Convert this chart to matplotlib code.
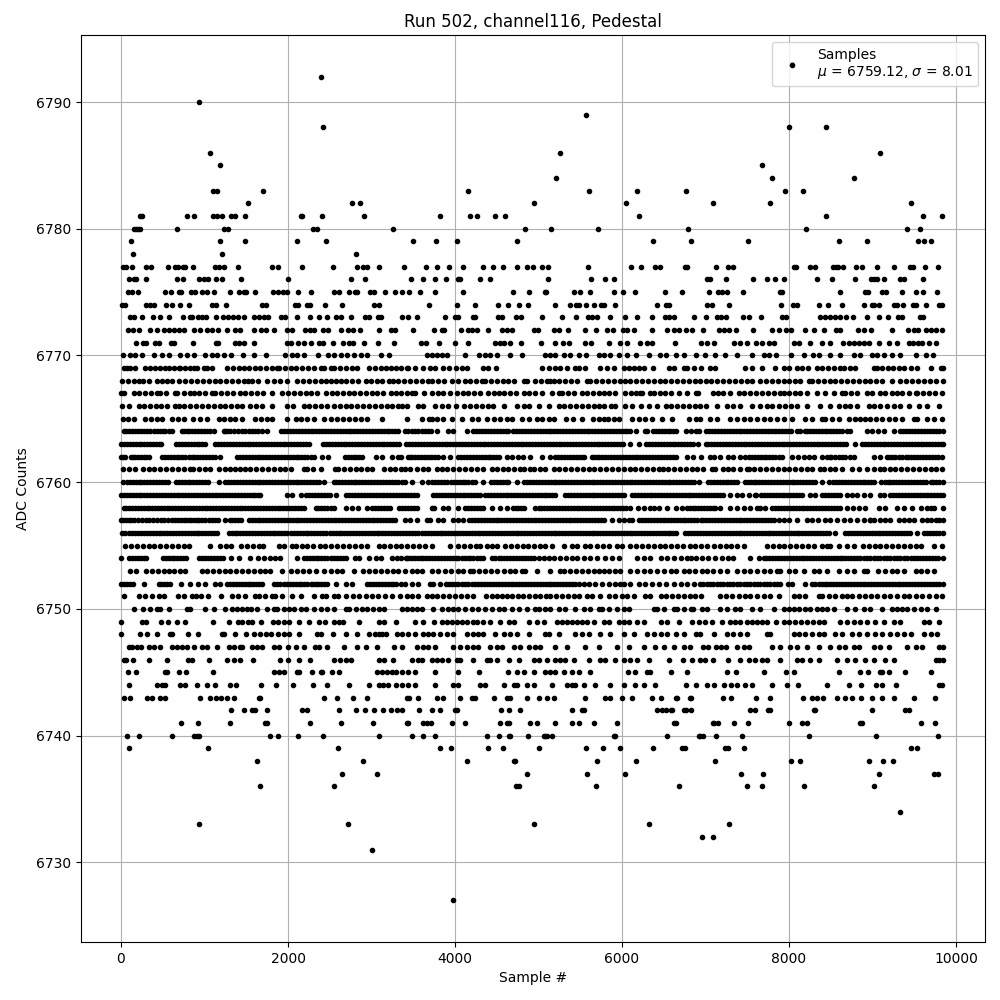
import matplotlib
matplotlib.use('Agg')
import matplotlib.pyplot as plt

# sample numbers at each ADC level
s6793 = [8036]
s6792 = [2390]
s6790 = [930]
s6789 = [5570]
s6788 = [2420, 8000, 8440]
s6786 = [1060, 5260, 9090]
s6785 = [1190, 7680]
s6784 = [5210, 7800, 8780]
s6783 = [1100, 1150, 1700, 4161, 5601, 6177, 6765, 7947, 8163]
s6782 = [1518, 2770, 2866, 4941, 6045, 7095, 7767, 9459]
s6781 = [222, 250, 786, 870, 1098, 1150, 1206, 1314, 1362, 1482, 2158, 2170, 2406, 2910, 3825, 4185, 4269, 4473, 4593, 6201, 8439, 9603, 9830]
s6780 = [150, 175, 200, 222, 666, 1230, 1278, 2298, 2346, 3258, 4833, 5145, 5709, 6789, 8199, 9411, 9567]
s6779 = [114, 1182, 1482, 2106, 2454, 3501, 3777, 4029, 4737, 6369, 6825, 7503, 8595, 8931, 9543, 9615, 9699]
s6778 = [138, 1206, 2814]
s6777 = [22, 58, 126, 294, 354, 558, 642, 678, 738, 762, 858, 1122, 1170, 1230, 1398, 1806, 1878, 2166, 2538, 2826, 2898, 2950, 3090, 3393, 3657, 3789, 3933, 4101, 4341, 4449, 4569, 4737, 4857, 4929, 5037, 5109, 5589, 6105, 6225, 6393, 6453, 6753, 6777, 7131, 7275, 7335, 8055, 8079, 8247, 8307, 8523, 8559, 8583, 8643, 8799, 8871, 9051, 9255, 9447, 9483, 9627, 9783]
s6776 = [90, 150, 174, 294, 666, 738, 930, 990, 1038, 1134, 1206, 1434, 1998, 2754, 2922, 3477, 3621, 3765, 3897, 4041, 4065, 4305, 4425, 5109, 5625, 5793, 5901, 7023, 7059, 7251, 7563, 7731, 7827, 7935, 8331, 8511, 8787, 8979, 9015, 9051, 9135, 9327, 9375, 9603]
s6775 = [78, 126, 198, 522, 594, 690, 714, 834, 882, 966, 1026, 1110, 1302, 1410, 1470, 1494, 1602, 1818, 1878, 1938, 1990, 2118, 2278, 2550, 2610, 2730, 2802, 2830, 2982, 3030, 3162, 3282, 3361, 3453, 3585, 3765, 4101, 4689, 4881, 5073, 5085, 5421, 5493, 5613, 5901, 6009, 6153, 6513, 6717, 7047, 7155, 7203, 7263, 7443, 7887, 7911, 8607, 8907, 8943, 9111, 9159, 9351, 9519, 9603, 9771]
s6774 = [10, 50, 294, 342, 390, 534, 606, 702, 810, 1086, 1134, 1254, 1686, 1734, 2082, 2118, 2226, 2262, 2442, 2646, 3030, 3090, 3693, 4029, 4245, 4509, 4629, 4761, 4869, 5193, 5373, 5445, 5481, 5565, 5661, 5745, 5781, 5913, 6417, 6525, 6561, 7023, 7083, 7287, 7899, 8043, 8091, 8355, 8463, 8631, 8895, 8991, 9015, 9075, 9255, 9291, 9363, 9483, 9519, 9639, 9795, 9831]
s6773 = [102, 150, 246, 378, 462, 570, 738, 822, 846, 918, 966, 1014, 1134, 1218, 1278, 1338, 1398, 1470, 1590, 1650, 1710, 1758, 1914, 1962, 2106, 2262, 2370, 2470, 2574, 2634, 2754, 2922, 2970, 3078, 3114, 3369, 3441, 3549, 3885, 4005, 4041, 4221, 4245, 4509, 4557, 4725, 4785, 5037, 5277, 5445, 5589, 5637, 5697, 5853, 6033, 6177, 6357, 6513, 6561, 6621, 6861, 7011, 7143, 7191, 7251, 7443, 7515, 7659, 7911, 7959, 8367, 8427, 8487, 8547, 8607, 8679, 8763, 8935, 9075, 9183, 9303, 9351, 9567, 9603]
s6772 = [78, 138, 210, 350, 430, 510, 570, 630, 690, 750, 870, 950, 1030, 1090, 1158, 1266, 1362, 1422, 1590, 1674, 1734, 1830, 1990, 2046, 2202, 2262, 2310, 2418, 2478, 2634, 2718, 2778, 2862, 3090, 3234, 3282, 3501, 3753, 3849, 3873, 4077, 4161, 4209, 4269, 4401, 4557, 4617, 4677, 4941, 4989, 5181, 5241, 5349, 5553, 5685, 5817, 5889, 6009, 6057, 6141, 6357, 6541, 6621, 6681, 6765, 6841, 6975, 7167, 7227, 7283, 7371, 7563, 7795, 7875, 7959, 8019, 8187, 8295, 8415, 8559, 8607, 8823, 8895, 8979, 9231, 9423, 9495, 9543, 9639, 9695, 9759, 9831]
s6771 = [174, 258, 294, 410, 450, 594, 630, 858, 1134, 1158, 1362, 1410, 1470, 1590, 1990, 2038, 2118, 2190, 2278, 2370, 2418, 2538, 2658, 2730, 2778, 2910, 3078, 3270, 3597, 3657, 3813, 4001, 4161, 4473, 4533, 4581, 4653, 4785, 5025, 5193, 5289, 5361, 5553, 5625, 5841, 5973, 6057, 6213, 6297, 6357, 6633, 6951, 7023, 7107, 7347, 7407, 7491, 7599, 7675, 7755, 7815, 8055, 8115, 8247, 8391, 8487, 8643, 8715, 8775, 8835, 8895, 8955, 9075, 9195, 9291, 9435, 9483, 9543, 9591, 9675, 9759]
s6770 = [18, 102, 170, 250, 390, 486, 570, 702, 786, 870, 1002, 1090, 1150, 1230, 1314, 1458, 1590, 1734, 1962, 2050, 2110, 2190, 2358, 2478, 2550, 2630, 2710, 2790, 2870, 2950, 3114, 3210, 3661, 3721, 3789, 3849, 3901, 4125, 4293, 4361, 4421, 4497, 4653, 4801, 5073, 5133, 5201, 5301, 5381, 5481, 5573, 5721, 5781, 5853, 5961, 6057, 6165, 6321, 6453, 6525, 6645, 6741, 6881, 6999, 7119, 7239, 7383, 7551, 7695, 7755, 7839, 8019, 8175, 8283, 8355, 8487, 8615, 8775, 8855, 8995, 9055, 9135, 9231, 9335, 9519, 9639, 9723]
s6769 = [30, 70, 110, 162, 290, 350, 410, 470, 530, 570, 630, 690, 710, 770, 830, 870, 910, 990, 1030, 1090, 1270, 1340, 1410, 1470, 1530, 1600, 1670, 1740, 1810, 1870, 1890, 1960, 2030, 2100, 2170, 2240, 2310, 2390, 2430, 2510, 2550, 2620, 2690, 2770, 2830, 2970, 3040, 3110, 3170, 3230, 3290, 3350, 3421, 3441, 3521, 3621, 3701, 3761, 3861, 3930, 4010, 4081, 4149, 4341, 4401, 4485, 5041, 5120, 5201, 5261, 5340, 5441, 5481, 5553, 5741, 5820, 5901, 6021, 6081, 6141, 6201, 6261, 6369, 6561, 6621, 6741, 6781, 6861, 6941, 7055, 7115, 7475, 7555, 7675, 7827, 7935, 7995, 8095, 8160, 8230, 8335, 8395, 8470, 8540, 8615, 8655, 8730, 8795, 9015, 9055, 9115, 9180, 9250, 9315, 9375, 9455, 9535, 9695, 9815, 9840]
s6768 = [10, 80, 150, 210, 258, 330, 430, 490, 550, 610, 690, 770, 840, 910, 980, 1050, 1120, 1190, 1260, 1330, 1400, 1470, 1518, 1570, 1638, 1750, 1830, 1910, 1982, 2110, 2180, 2250, 2320, 2390, 2450, 2510, 2570, 2630, 2700, 2770, 2840, 2930, 2990, 3060, 3130, 3210, 3262, 3318, 3390, 3460, 3530, 3600, 3681, 3721, 3800, 3870, 3960, 4041, 4121, 4181, 4250, 4321, 4361, 4430, 4500, 4570, 4640, 4710, 4821, 4861, 4961, 5030, 5100, 5141, 5181, 5250, 5320, 5390, 5460, 5581, 5621, 5690, 5760, 5830, 5900, 5970, 6041, 6101, 6170, 6240, 6310, 6380, 6450, 6520, 6590, 6660, 6730, 6800, 6875, 6935, 7000, 7070, 7140, 7210, 7280, 7350, 7420, 7495, 7551, 7655, 7725, 7795, 7865, 7935, 8005, 8075, 8135, 8235, 8275, 8345, 8415, 8485, 8555, 8625, 8695, 8765, 8835, 8905, 8975, 9045, 9115, 9235, 9335, 9405, 9475, 9545, 9615, 9685, 9755, 9840]
s6767 = [0, 40, 150, 220, 290, 360, 430, 470, 540, 650, 670, 750, 830, 870, 940, 1010, 1090, 1130, 1200, 1270, 1340, 1430, 1490, 1560, 1630, 1700, 1810, 1930, 2000, 2070, 2140, 2210, 2280, 2350, 2450, 2530, 2590, 2660, 2730, 2790, 2860, 2930, 3000, 3070, 3140, 3230, 3290, 3350, 3420, 3481, 3521, 3633, 3729, 3801, 3861, 3941, 4021, 4090, 4160, 4230, 4300, 4401, 4461, 4521, 4590, 4660, 4730, 4821, 4881, 4960, 5041, 5161, 5241, 5281, 5350, 5420, 5521, 5581, 5650, 5720, 5781, 5841, 5921, 6041, 6110, 6170, 6221, 6241, 6341, 6381, 6450, 6520, 6581, 6681, 6781, 6881, 6915, 7095, 7155, 7215, 7295, 7395, 7465, 7535, 7605, 7675, 7745, 7815, 7895, 7935, 8005, 8075, 8135, 8215, 8335, 8435, 8535, 8635, 8675, 8745, 8815, 8935, 8995, 9095, 9155, 9235, 9295, 9355, 9435, 9515, 9535, 9605, 9675, 9745, 9835]
s6766 = [10, 90, 210, 280, 350, 420, 480, 550, 650, 690, 760, 830, 900, 970, 1040, 1110, 1180, 1250, 1320, 1390, 1450, 1550, 1620, 1690, 1810, 1990, 2060, 2190, 2250, 2320, 2390, 2470, 2550, 2620, 2690, 2760, 2830, 2900, 2970, 3040, 3110, 3180, 3250, 3320, 3370, 3430, 3561, 3621, 3761, 3841, 3921, 4011, 4111, 4181, 4250, 4320, 4390, 4460, 4581, 4741, 4821, 4890, 5000, 5121, 5250, 5310, 5380, 5450, 5521, 5590, 5660, 5720, 5781, 5870, 5921, 6041, 6121, 6230, 6320, 6421, 6521, 6590, 6660, 6730, 6800, 6880, 6935, 7000, 7135, 7255, 7335, 7415, 7555, 7655, 7735, 7800, 7880, 7950, 8020, 8095, 8215, 8375, 8495, 8595, 8665, 8735, 8815, 8955, 9015, 9095, 9175, 9255, 9335, 9435, 9555, 9655, 9795]
s6765 = [20, 80, 150, 290, 360, 430, 490, 610, 680, 750, 860, 950, 1030, 1170, 1230, 1300, 1370, 1450, 1610, 1680, 1750, 1810, 1990, 2090, 2160, 2230, 2310, 2430, 2510, 2590, 2660, 2730, 2800, 2870, 2950, 3120, 3430, 3610, 3690, 3721, 3790, 3860, 3960, 4089, 4201, 4280, 4381, 4461, 4540, 4621, 4681, 4801, 4881, 4981, 5041, 5121, 5181, 5330, 5410, 5521, 5650, 5721, 5781, 5830, 5900, 5961, 6121, 6201, 6281, 6361, 6481, 6601, 6801, 6881, 6935, 7055, 7135, 7295, 7375, 7455, 7535, 7615, 7695, 7775, 7855, 7935, 8035, 8195, 8275, 8395, 8435, 8515, 8595, 8715, 8795, 8855, 8915, 8975, 9045, 9115, 9195, 9275, 9355, 9495, 9535, 9655, 9735, 9835]
s6764 = [30, 100, 170, 240, 310, 350, 400, 470, 530, 610, 730, 750, 820, 890, 960, 1030, 1110, 1230, 1240, 1310, 1400, 1450, 1530, 1600, 1690, 1750, 1920, 1990, 2060, 2130, 2200, 2270, 2340, 2410, 2480, 2550, 2620, 2690, 2760, 2830, 2900, 2970, 3040, 3110, 3180, 3250, 3320, 3400, 3481, 3561, 3640, 3710, 3781, 3920, 3970, 4141, 4221, 4290, 4360, 4430, 4500, 4570, 4640, 4700, 4770, 4840, 4910, 4980, 5050, 5120, 5190, 5260, 5330, 5400, 5470, 5540, 5610, 5680, 5750, 5820, 5890, 5960, 6030, 6100, 6170, 6270, 6301, 6370, 6440, 6510, 6580, 6650, 6761, 6821, 6881, 6920, 7000, 7045, 7115, 7185, 7255, 7325, 7395, 7465, 7535, 7605, 7675, 7745, 7815, 7885, 7955, 8025, 8095, 8135, 8190, 8215, 8285, 8355, 8425, 8495, 8565, 8635, 8695, 8735, 8935, 8995, 9065, 9135, 9255, 9335, 9405, 9475, 9545, 9615, 9685, 9755, 9840]
s6763 = [0, 70, 140, 210, 280, 350, 420, 480, 660, 730, 800, 870, 940, 1010, 1130, 1200, 1270, 1340, 1410, 1480, 1550, 1620, 1690, 1760, 1830, 1900, 1970, 2040, 2110, 2180, 2250, 2420, 2490, 2560, 2630, 2700, 2770, 2840, 2910, 2980, 3050, 3120, 3190, 3260, 3330, 3410, 3480, 3560, 3630, 3700, 3770, 3840, 3910, 3980, 4050, 4120, 4190, 4260, 4330, 4400, 4470, 4540, 4610, 4680, 4750, 4820, 4890, 4960, 5030, 5100, 5170, 5240, 5310, 5380, 5450, 5520, 5590, 5660, 5730, 5800, 5870, 5940, 6010, 6100, 6200, 6290, 6360, 6430, 6500, 6570, 6640, 6710, 6780, 6850, 6915, 7000, 7070, 7140, 7210, 7280, 7350, 7420, 7490, 7560, 7630, 7700, 7770, 7840, 7910, 7980, 8050, 8120, 8190, 8260, 8330, 8400, 8470, 8540, 8610, 8680, 8795, 8875, 8945, 9015, 9085, 9155, 9225, 9295, 9365, 9435, 9505, 9575, 9645, 9715, 9785, 9840]
s6762 = [0, 50, 120, 140, 200, 270, 330, 490, 560, 630, 700, 770, 850, 910, 980, 1050, 1130, 1190, 1390, 1460, 1530, 1600, 1670, 1740, 1810, 1880, 1950, 2020, 2090, 2160, 2230, 2310, 2410, 2480, 2680, 2750, 2820, 2890, 3050, 3120, 3250, 3320, 3350, 3441, 3461, 3520, 3590, 3660, 3730, 3800, 3860, 3941, 4041, 4110, 4180, 4250, 4320, 4390, 4460, 4530, 4621, 4681, 4750, 4820, 4901, 5041, 5141, 5201, 5270, 5340, 5410, 5480, 5550, 5641, 5661, 5730, 5800, 5870, 5940, 6010, 6080, 6150, 6220, 6290, 6360, 6430, 6500, 6570, 6641, 6781, 6850, 6941, 7055, 7105, 7175, 7275, 7335, 7415, 7475, 7555, 7625, 7695, 7765, 7835, 7915, 8035, 8105, 8175, 8235, 8295, 8395, 8455, 8495, 8555, 8635, 8675, 8735, 8775, 9015, 9095, 9175, 9195, 9275, 9355, 9395, 9465, 9535, 9605, 9675, 9745, 9835]
s6761 = [20, 90, 170, 260, 330, 400, 470, 540, 610, 680, 750, 830, 860, 930, 1000, 1070, 1170, 1240, 1300, 1370, 1430, 1480, 1550, 1620, 1690, 1760, 1830, 1900, 1970, 2040, 2190, 2230, 2300, 2400, 2560, 2600, 2670, 2740, 2810, 2880, 2950, 3010, 3150, 3220, 3280, 3350, 3400, 3460, 3541, 3621, 3681, 3781, 3841, 3910, 3980, 4050, 4120, 4190, 4260, 4330, 4441, 4501, 4570, 4640, 4710, 4781, 4821, 4901, 4950, 5021, 5081, 5181, 5250, 5320, 5390, 5460, 5530, 5600, 5670, 5740, 5810, 5880, 5950, 6020, 6090, 6160, 6230, 6300, 6370, 6441, 6485, 6555, 6625, 6695, 6765, 6835, 6900, 6975, 7075, 7115, 7215, 7275, 7335, 7415, 7495, 7515, 7585, 7655, 7725, 7795, 7865, 7935, 8005, 8075, 8145, 8215, 8275, 8375, 8415, 8485, 8555, 8635, 8755, 8835, 8935, 9015, 9095, 9135, 9205, 9275, 9345, 9415, 9485, 9555, 9625, 9695, 9765, 9835]
s6760 = [18, 70, 140, 210, 280, 350, 420, 490, 560, 660, 730, 800, 860, 930, 1000, 1040, 1170, 1250, 1320, 1390, 1460, 1530, 1600, 1670, 1740, 1810, 1880, 1950, 2020, 2090, 2160, 2230, 2300, 2370, 2430, 2550, 2610, 2680, 2750, 2820, 2890, 2960, 3030, 3100, 3170, 3240, 3320, 3361, 3401, 3481, 3601, 3680, 3730, 3800, 3870, 3950, 4021, 4090, 4160, 4240, 4341, 4430, 4500, 4570, 4640, 4741, 4821, 4901, 4970, 5040, 5110, 5180, 5250, 5320, 5390, 5460, 5530, 5600, 5670, 5740, 5810, 5880, 5950, 6020, 6090, 6160, 6230, 6300, 6370, 6440, 6510, 6580, 6650, 6720, 6790, 6860, 6920, 7030, 7100, 7170, 7240, 7310, 7380, 7470, 7540, 7610, 7680, 7750, 7820, 7890, 7960, 8030, 8100, 8170, 8240, 8310, 8390, 8480, 8530, 8600, 8670, 8740, 8810, 8880, 8950, 9020, 9100, 9145, 9215, 9285, 9355, 9425, 9495, 9565, 9640, 9695, 9765, 9840]
s6759 = [0, 70, 140, 210, 280, 350, 420, 490, 560, 630, 700, 770, 840, 910, 980, 1050, 1120, 1190, 1260, 1330, 1400, 1470, 1540, 1610, 1670, 1990, 2050, 2160, 2220, 2290, 2360, 2430, 2500, 2570, 2700, 2770, 2840, 2910, 2980, 3050, 3120, 3190, 3260, 3330, 3400, 3470, 3540, 3741, 3810, 3880, 3950, 4020, 4090, 4160, 4230, 4300, 4361, 4430, 4500, 4570, 4640, 4710, 4780, 4850, 4920, 4990, 5060, 5130, 5200, 5321, 5390, 5460, 5530, 5600, 5670, 5740, 5810, 5880, 5950, 6020, 6120, 6190, 6260, 6330, 6400, 6470, 6540, 6610, 6680, 6750, 6820, 6890, 6960, 7030, 7100, 7170, 7215, 7295, 7375, 7435, 7515, 7595, 7665, 7735, 7805, 7875, 7945, 8015, 8085, 8155, 8255, 8315, 8395, 8465, 8535, 8615, 8695, 8755, 8815, 8895, 8975, 9095, 9135, 9215, 9285, 9355, 9425, 9495, 9565, 9635, 9705, 9775, 9840]
s6758 = [30, 100, 170, 240, 310, 370, 440, 510, 580, 650, 720, 790, 860, 930, 1000, 1070, 1140, 1210, 1280, 1350, 1420, 1490, 1560, 1630, 1700, 1770, 1840, 1910, 1980, 2050, 2120, 2190, 2330, 2400, 2470, 2550, 2700, 2770, 2840, 2950, 3010, 3080, 3150, 3220, 3330, 3400, 3470, 3541, 3721, 3750, 3851, 3921, 4041, 4121, 4190, 4260, 4330, 4441, 4541, 4621, 4690, 4760, 4830, 4961, 5001, 5070, 5140, 5210, 5280, 5350, 5420, 5490, 5560, 5630, 5700, 5770, 5840, 5910, 5980, 6050, 6090, 6190, 6260, 6341, 6381, 6441, 6541, 6641, 6715, 6775, 6845, 6915, 6985, 7055, 7115, 7175, 7295, 7375, 7455, 7535, 7615, 7655, 7715, 7795, 7835, 7905, 7975, 8045, 8115, 8185, 8255, 8325, 8395, 8465, 8535, 8615, 8695, 8765, 8835, 8915, 9075, 9155, 9295, 9375, 9475, 9575, 9655, 9735, 9840]
s6757 = [0, 20, 90, 160, 250, 340, 430, 520, 610, 680, 750, 810, 870, 940, 1010, 1090, 1160, 1250, 1300, 1370, 1440, 1530, 1600, 1670, 1740, 1810, 1880, 1950, 2020, 2090, 2160, 2230, 2300, 2370, 2440, 2510, 2580, 2650, 2720, 2790, 2860, 2930, 3000, 3070, 3140, 3210, 3280, 3400, 3461, 3541, 3661, 3701, 3801, 3861, 3981, 4041, 4101, 4171, 4241, 4310, 4380, 4450, 4520, 4590, 4660, 4730, 4800, 4870, 4940, 5010, 5080, 5150, 5220, 5290, 5360, 5430, 5500, 5570, 5640, 5710, 5780, 5881, 5961, 6021, 6081, 6125, 6205, 6275, 6345, 6415, 6485, 6555, 6625, 6695, 6760, 6830, 6900, 6975, 7045, 7115, 7185, 7255, 7325, 7395, 7465, 7535, 7605, 7675, 7745, 7815, 7875, 7935, 8005, 8095, 8215, 8275, 8345, 8435, 8495, 8575, 8655, 8735, 8815, 8895, 8975, 9015, 9095, 9145, 9215, 9315, 9375, 9435, 9495, 9595, 9655, 9695, 9795, 9840]
s6756 = [10, 50, 90, 170, 240, 310, 380, 450, 520, 590, 660, 730, 800, 870, 940, 1010, 1080, 1150, 1290, 1360, 1430, 1500, 1570, 1640, 1710, 1780, 1850, 1920, 1990, 2070, 2140, 2210, 2280, 2350, 2420, 2500, 2570, 2640, 2710, 2780, 2850, 2920, 2990, 3060, 3130, 3200, 3270, 3340, 3410, 3490, 3560, 3641, 3710, 3780, 3850, 3920, 3990, 4060, 4130, 4200, 4270, 4340, 4410, 4480, 4550, 4620, 4690, 4760, 4830, 4900, 4970, 5040, 5110, 5180, 5250, 5320, 5390, 5460, 5530, 5600, 5670, 5740, 5810, 5880, 5950, 6020, 6090, 6160, 6230, 6300, 6370, 6440, 6510, 6580, 6650, 6750, 6830, 6900, 6975, 7045, 7115, 7185, 7255, 7325, 7395, 7465, 7535, 7605, 7675, 7745, 7775, 7845, 7915, 7985, 8055, 8125, 8195, 8265, 8335, 8405, 8475, 8555, 8675, 8745, 8815, 8885, 8955, 9025, 9095, 9165, 9235, 9305, 9375, 9445, 9535, 9615, 9685, 9755, 9840]
s6755 = [50, 120, 190, 260, 330, 400, 470, 540, 610, 680, 750, 820, 1060, 1180, 1260, 1320, 1440, 1510, 1580, 1650, 1700, 1890, 1950, 2050, 2090, 2170, 2230, 2300, 2380, 2440, 2520, 2590, 2660, 2730, 2800, 2870, 2950, 3090, 3150, 3220, 3290, 3350, 3421, 3500, 3570, 3640, 3721, 3941, 4041, 4110, 4180, 4250, 4301, 4381, 4441, 4500, 4601, 4670, 4740, 4810, 4880, 4950, 5020, 5081, 5161, 5301, 5401, 5461, 5561, 5621, 5701, 5770, 5840, 5941, 6005, 6101, 6170, 6240, 6310, 6380, 6450, 6520, 6590, 6660, 6730, 6815, 6880, 6950, 7020, 7100, 7170, 7240, 7310, 7380, 7455, 7735, 7805, 7875, 7945, 8015, 8085, 8155, 8225, 8295, 8395, 8455, 8495, 8595, 8695, 8775, 8885, 8955, 9025, 9095, 9165, 9235, 9305, 9375, 9445, 9515, 9575, 9735, 9835]
s6754 = [6, 100, 170, 240, 300, 500, 570, 640, 710, 780, 930, 1010, 1080, 1150, 1220, 1320, 1410, 1550, 1640, 1710, 1780, 1840, 1900, 2110, 2190, 2260, 2330, 2400, 2470, 2550, 2620, 2690, 2800, 2850, 2970, 3050, 3110, 3250, 3310, 3350, 3421, 3481, 3561, 3621, 3691, 3761, 3830, 3901, 3981, 4041, 4121, 4181, 4261, 4341, 4441, 4521, 4591, 4661, 4731, 4801, 4871, 4941, 5001, 5061, 5121, 5191, 5261, 5331, 5401, 5461, 5541, 5621, 5701, 5801, 5881, 5961, 6181, 6261, 6341, 6461, 6541, 6621, 6705, 6775, 6825, 6885, 6955, 7025, 7115, 7195, 7275, 7335, 7535, 7635, 7695, 7765, 7835, 7905, 7975, 8045, 8115, 8185, 8255, 8325, 8395, 8465, 8535, 8605, 8675, 8745, 8815, 8895, 8975, 9055, 9135, 9215, 9295, 9375, 9455, 9535, 9605, 9675, 9745, 9840]
s6753 = [110, 180, 300, 370, 440, 510, 570, 640, 710, 770, 970, 1030, 1100, 1170, 1240, 1310, 1380, 1450, 1520, 1590, 1660, 1730, 1790, 1930, 2030, 2110, 2180, 2250, 2330, 2430, 2510, 2590, 2650, 2790, 2900, 2970, 3040, 3110, 3180, 3260, 3320, 3401, 3481, 3541, 3601, 3721, 3801, 3881, 3951, 4031, 4101, 4181, 4221, 4291, 4361, 4431, 4501, 4581, 4661, 4721, 4801, 4841, 4981, 5141, 5261, 5301, 5381, 5451, 5521, 5591, 5661, 5721, 5781, 5841, 5921, 5981, 6101, 6181, 6261, 6341, 6421, 6501, 6581, 6641, 6741, 6801, 6875, 6955, 7015, 7095, 7175, 7255, 7375, 7455, 7535, 7615, 7695, 7775, 7855, 7895, 7995, 8075, 8175, 8295, 8355, 8455, 8595, 8695, 8775, 8895, 8935, 9065, 9145, 9235, 9295, 9375, 9515, 9575, 9655, 9735]
s6752 = [0, 70, 140, 270, 450, 520, 590, 720, 830, 920, 1000, 1130, 1190, 1270, 1340, 1410, 1480, 1550, 1620, 1690, 1830, 1910, 1990, 2060, 2130, 2190, 2270, 2330, 2400, 2470, 2570, 2690, 2770, 2950, 3020, 3090, 3160, 3230, 3290, 3350, 3401, 3481, 3561, 3701, 3741, 3821, 3890, 3960, 4041, 4121, 4201, 4281, 4350, 4420, 4490, 4560, 4630, 4700, 4770, 4840, 4910, 4980, 5050, 5120, 5190, 5260, 5330, 5400, 5481, 5541, 5601, 5681, 5761, 5841, 5921, 5981, 6021, 6101, 6201, 6281, 6361, 6441, 6521, 6621, 6701, 6781, 6861, 6935, 7015, 7095, 7175, 7255, 7335, 7415, 7495, 7575, 7655, 7735, 7815, 7895, 7985, 8035, 8195, 8275, 8355, 8425, 8495, 8565, 8635, 8705, 8775, 8845, 8915, 8985, 9055, 9125, 9195, 9265, 9335, 9405, 9475, 9545, 9615, 9685, 9755, 9840]
s6751 = [40, 210, 290, 370, 450, 520, 680, 750, 850, 900, 960, 1040, 1200, 1330, 1400, 1490, 1600, 1650, 1730, 1810, 1850, 1930, 2050, 2150, 2310, 2410, 2460, 2550, 2600, 2700, 2780, 2850, 2930, 3000, 3080, 3160, 3250, 3340, 3420, 3490, 3561, 3661, 3721, 3781, 3861, 3930, 4000, 4070, 4140, 4221, 4373, 4441, 4500, 4561, 4621, 4681, 4750, 4820, 4890, 4960, 5021, 5085, 5141, 5210, 5280, 5350, 5420, 5490, 5581, 5637, 5733, 5841, 5921, 6001, 6061, 6141, 6281, 6341, 6461, 6530, 6600, 6670, 6740, 6810, 6875, 6941, 7175, 7245, 7315, 7395, 7475, 7535, 7615, 7695, 7775, 7885, 8055, 8115, 8195, 8355, 8395, 8475, 8555, 8635, 8695, 8755, 8835, 8915, 8985, 9055, 9135, 9215, 9295, 9375, 9435, 9515, 9595, 9675, 9755, 9835]
s6750 = [150, 260, 350, 430, 470, 570, 790, 830, 1010, 1110, 1250, 1330, 1390, 1450, 1510, 1560, 1630, 1750, 1830, 1870, 1950, 2010, 2070, 2150, 2220, 2310, 2390, 2470, 2550, 2690, 2730, 2820, 2890, 2950, 3020, 3090, 3150, 3361, 3421, 3481, 3541, 3601, 3741, 3841, 3921, 3981, 4041, 4121, 4201, 4281, 4361, 4441, 4521, 4581, 4681, 4761, 4861, 4961, 5001, 5081, 5141, 5241, 5321, 5441, 5541, 5621, 5721, 5761, 5841, 5941, 6021, 6081, 6381, 6421, 6501, 6621, 6661, 6741, 6821, 6855, 6955, 7015, 7175, 7255, 7355, 7415, 7555, 7655, 7815, 7935, 7995, 8055, 8115, 8195, 8255, 8335, 8395, 8455, 8535, 8695, 8795, 8895, 8975, 9115, 9235, 9295, 9355, 9415, 9495, 9575, 9655, 9755]
s6749 = [6, 246, 294, 474, 558, 666, 770, 1098, 1290, 1398, 1446, 1518, 1566, 1674, 1818, 1878, 1950, 2010, 2130, 2250, 2370, 2442, 2550, 2610, 2658, 2850, 3090, 3150, 3290, 3525, 3621, 3753, 3841, 3901, 3961, 4021, 4081, 4141, 4221, 4261, 4341, 4421, 4533, 4641, 4701, 4881, 4981, 5061, 5221, 5281, 5341, 5401, 5461, 5521, 5581, 5661, 5781, 5841, 5961, 6021, 6081, 6181, 6261, 6461, 6541, 6681, 6841, 6921, 6995, 7075, 7203, 7295, 7355, 7415, 7495, 7555, 7615, 7675, 7735, 7839, 7935, 8005, 8075, 8145, 8215, 8285, 8355, 8415, 8607, 8695, 8775, 8855, 8935, 9035, 9135, 9255, 9335, 9615, 9675, 9795]
s6748 = [6, 222, 306, 426, 590, 610, 806, 918, 1210, 1230, 1362, 1500, 1590, 1660, 1740, 1800, 1880, 1950, 2010, 2130, 2350, 2390, 2542, 2690, 2830, 2970, 3040, 3090, 3130, 3170, 3310, 3361, 3441, 3521, 3621, 3681, 3741, 3821, 3901, 3981, 4141, 4221, 4281, 4341, 4481, 4581, 4661, 4741, 4881, 5081, 5121, 5241, 5441, 5521, 5601, 5741, 5861, 6021, 6141, 6301, 6381, 6461, 6541, 6641, 6741, 6881, 6939, 7103, 7255, 7335, 7415, 7495, 7735, 7775, 8055, 8115, 8195, 8275, 8355, 8415, 8555, 8635, 8755, 8835, 8935, 9035, 9115, 9215, 9295, 9375, 9455, 9615, 9695, 9775]
s6747 = [90, 130, 190, 240, 330, 390, 462, 610, 670, 730, 790, 870, 970, 1030, 1146, 1290, 1350, 1430, 1450, 1570, 1630, 1690, 1830, 1890, 2000, 2090, 2190, 2320, 2370, 2470, 2670, 2830, 2930, 3070, 3270, 3361, 3541, 3621, 3681, 3761, 3981, 4061, 4141, 4221, 4281, 4421, 4501, 4561, 4701, 4781, 4881, 4961, 5021, 5201, 5341, 5561, 5721, 5941, 6081, 6261, 6401, 6501, 6621, 6741, 6815, 6970, 7030, 7130, 7190, 7250, 7375, 7455, 7515, 7795, 7895, 8015, 8095, 8215, 8355, 8495, 8595, 8675, 8775, 8835, 9015, 9095, 9195, 9415, 9515, 9595, 9795, 9840]
s6746 = [30, 60, 140, 330, 546, 800, 850, 1050, 1270, 1350, 1420, 1582, 1910, 2000, 2130, 2262, 2550, 2620, 2690, 2760, 3090, 3150, 3260, 3481, 3561, 3601, 3721, 3781, 3841, 3921, 4021, 4061, 4221, 4381, 4421, 4501, 4641, 4761, 4941, 5001, 5101, 5201, 5261, 5321, 5421, 5601, 5741, 5801, 5921, 6021, 6101, 6181, 6321, 6561, 6735, 6835, 6935, 6995, 7095, 7275, 7415, 7515, 7595, 7675, 7735, 7895, 8095, 8155, 8255, 8355, 8575, 8695, 8795, 8915, 9015, 9155, 9255, 9755, 9795, 9840]
s6745 = [78, 182, 530, 550, 690, 774, 1098, 1830, 1890, 1950, 2110, 2130, 2290, 2400, 2410, 2530, 2610, 3070, 3130, 3180, 3250, 3290, 3370, 3440, 3521, 3761, 4041, 4293, 4629, 4741, 4821, 4941, 5081, 5141, 5201, 5301, 5401, 5481, 5621, 6069, 6155, 6305, 6341, 6581, 6783, 7263, 7371, 7695, 7959, 8055, 8603, 8847, 8943, 9087, 9111, 9195, 9387, 9703]
s6744 = [90, 434, 490, 530, 710, 770, 910, 1026, 1122, 1302, 1374, 1674, 1854, 2062, 2298, 2470, 2730, 2970, 3090, 3140, 3200, 3290, 3370, 3440, 3521, 3761, 3981, 4041, 4301, 4361, 4581, 4701, 4741, 4861, 4941, 5161, 5341, 5401, 5441, 5541, 5681, 5861, 6021, 6161, 6261, 6401, 6761, 6881, 7015, 7103, 7227, 7311, 7379, 7471, 7555, 7791, 7979, 8103, 8459, 8715, 8859, 9039, 9119, 9279, 9795, 9830]
s6743 = [30, 102, 310, 374, 470, 530, 942, 1062, 1134, 1194, 1270, 1350, 1650, 1670, 2430, 2586, 2778, 2946, 3421, 3445, 3561, 3781, 3861, 4061, 4201, 4241, 4461, 4621, 4661, 4861, 5001, 5101, 5181, 5561, 5801, 5861, 6001, 6121, 6361, 6461, 6641, 6661, 6811, 6823, 7211, 7311, 7599, 7767, 8163, 8275, 8331, 8411, 8575, 8667, 8751, 8859, 8995, 9111, 9255, 9495, 9747]
s6742 = [1314, 1470, 1570, 1610, 1750, 2162, 2222, 2610, 2814, 2922, 3030, 3138, 3234, 3310, 3370, 3570, 3729, 3821, 4001, 4021, 4549, 4645, 4773, 5397, 5521, 5541, 6421, 6481, 6525, 6581, 6601, 6741, 6767, 6831, 7531, 7595, 7743, 7767, 8295, 8315, 8995, 9387, 9435]
s6741 = [714, 918, 1302, 1722, 1754, 2262, 2634, 3018, 3421, 3441, 3621, 3661, 3713, 3961, 4121, 4533, 4621, 4641, 4901, 4981, 5201, 5401, 5481, 5661, 5941, 6621, 6641, 7087, 7107, 7147, 7347, 7503, 7995, 8151, 8219, 8855, 8875, 9579, 9747]
s6740 = [66, 210, 606, 870, 910, 930, 1782, 1878, 2118, 2418, 3090, 3489, 3617, 3765, 4381, 4521, 4641, 4661, 4869, 5061, 5081, 5101, 5161, 5901, 5921, 6537, 6919, 6931, 6971, 7131, 7431, 8235, 9039, 9783]
s6739 = [90, 1038, 2598, 3825, 3957, 4401, 4569, 5001, 5565, 5769, 5973, 6369, 6713, 6749, 7239, 7275, 7455, 9459, 9531]
s6738 = [1626, 2898, 4141, 4701, 4721, 5697, 6165, 7119, 8019, 8127, 8955, 9123, 9243]
s6737 = [2650, 3070, 4861, 5581, 6033, 7419, 7683, 9075, 9735, 9783]
s6736 = [1662, 2550, 4725, 4765, 5685, 6681, 7491, 7671, 8175, 9015]
s6734 = [9330]
s6733 = [940, 2720, 4950, 6320, 7280]
s6732 = [6960, 7090]
s6731 = [3010]
s6727 = [3970]

# second pass over the solid bands, these rows are almost unbroken in the plot
m6764 = [65, 135, 205, 275, 435, 500, 570, 785, 855, 925, 995, 1070, 1275, 1355, 1490, 1565, 1645, 1955, 2025, 2095, 2165, 2235, 2305, 2375, 2445, 2515, 2585, 2655, 2725, 2795, 2865, 2935, 3005, 3075, 3145, 3215, 3285, 3440, 3520, 3600, 3675, 4255, 4325, 4395, 4465, 4535, 4605, 4735, 4805, 4875, 4945, 5015, 5085, 5155, 5225, 5295, 5365, 5435, 5505, 5575, 5645, 5715, 5785, 5855, 5925, 5995, 6065, 6405, 6475, 6545, 6615, 7080, 7150, 7220, 7290, 7360, 7430, 7500, 7570, 7640, 7710, 7780, 7850, 7920, 7990, 8250, 8320, 8390, 8460, 8530, 8600, 9370, 9440, 9510, 9580, 9650, 9720, 9800]
m6763 = [35, 105, 175, 245, 315, 385, 450, 695, 765, 835, 905, 975, 1165, 1235, 1305, 1375, 1445, 1515, 1585, 1655, 1725, 1795, 1865, 1935, 2005, 2075, 2145, 2215, 2455, 2525, 2595, 2665, 2735, 2805, 2875, 2945, 3015, 3085, 3155, 3225, 3295, 3445, 3520, 3595, 3665, 3735, 3805, 3875, 3945, 4015, 4085, 4155, 4225, 4295, 4365, 4435, 4505, 4575, 4645, 4715, 4785, 4855, 4925, 4995, 5065, 5135, 5205, 5275, 5345, 5415, 5485, 5555, 5625, 5695, 5765, 5835, 5905, 5975, 6325, 6395, 6465, 6535, 6605, 6675, 6745, 6815, 7035, 7105, 7175, 7245, 7315, 7385, 7455, 7525, 7595, 7665, 7735, 7805, 7875, 7945, 8015, 8085, 8155, 8225, 8295, 8365, 8435, 8505, 8575, 8645, 8910, 8980, 9050, 9120, 9190, 9260, 9330, 9400, 9470, 9540, 9610, 9680, 9750, 9815]
m6762 = [25, 170, 235, 300, 525, 595, 665, 735, 810, 880, 945, 1015, 1090, 1425, 1495, 1565, 1635, 1705, 1775, 1845, 1915, 1985, 2055, 2125, 2195, 2270, 2715, 2785, 2855, 3485, 3555, 3625, 3695, 3765, 4075, 4145, 4215, 4285, 4355, 4425, 4495, 5235, 5305, 5375, 5445, 5515, 5695, 5765, 5835, 5905, 5975, 6045, 6115, 6185, 6255, 6325, 6395, 6465, 6535, 6605, 7525, 7590, 7660, 7730, 7800, 7875, 8500, 8600, 9235, 9315, 9430, 9500, 9570, 9640, 9710, 9790]
m6760 = [105, 175, 245, 315, 385, 455, 525, 695, 765, 830, 895, 965, 1285, 1355, 1425, 1495, 1565, 1635, 1705, 1775, 1845, 1915, 1985, 2055, 2125, 2195, 2265, 2335, 2580, 2645, 2715, 2785, 2855, 2925, 2995, 3065, 3135, 3205, 3280, 3765, 3835, 3910, 3985, 4055, 4125, 4200, 4465, 4535, 4605, 4860, 4935, 5005, 5075, 5145, 5215, 5285, 5355, 5425, 5495, 5565, 5635, 5705, 5775, 5845, 5915, 5985, 6055, 6125, 6195, 6265, 6335, 6405, 6475, 6545, 6615, 6685, 6755, 6825, 7065, 7135, 7205, 7275, 7345, 7505, 7575, 7645, 7715, 7785, 7855, 7925, 7995, 8065, 8135, 8205, 8275, 8565, 8635, 8705, 8775, 8845, 8915, 8985, 9180, 9250, 9320, 9390, 9460, 9530, 9600, 9730, 9800]
m6759 = [35, 105, 175, 245, 315, 385, 455, 525, 595, 665, 735, 805, 875, 945, 1015, 1085, 1155, 1225, 1295, 1365, 1435, 1505, 1575, 1640, 2255, 2325, 2395, 2465, 2735, 2805, 2875, 2945, 3015, 3085, 3155, 3225, 3295, 3365, 3435, 3505, 3775, 3845, 3915, 3985, 4055, 4125, 4195, 4265, 4395, 4465, 4535, 4605, 4675, 4745, 4815, 4885, 4955, 5025, 5095, 5165, 5355, 5425, 5495, 5565, 5635, 5705, 5775, 5845, 5915, 5985, 6155, 6225, 6295, 6365, 6435, 6505, 6575, 6645, 6715, 6785, 6855, 6925, 6995, 7065, 7135, 7600, 7700, 7770, 7840, 7910, 7980, 8050, 8120, 8430, 8500, 8575, 9250, 9320, 9390, 9460, 9530, 9600, 9670, 9740, 9810]
m6758 = [65, 135, 205, 275, 340, 405, 475, 545, 615, 685, 755, 825, 895, 965, 1035, 1105, 1175, 1245, 1315, 1385, 1455, 1525, 1595, 1665, 1735, 1805, 1875, 1945, 2015, 2085, 2155, 2365, 2435, 2510, 3040, 3115, 3185, 3365, 3435, 3505, 4155, 4225, 4295, 4725, 4795, 5035, 5105, 5175, 5245, 5315, 5385, 5455, 5525, 5595, 5665, 5735, 5805, 5875, 5945, 6015, 6810, 6880, 6950, 7020, 7085, 7870, 7940, 8010, 8080, 8150, 8220, 8290, 8360, 8430, 8500, 8575, 9700]
m6757 = [55, 125, 205, 295, 385, 475, 565, 645, 715, 780, 840, 905, 975, 1050, 1125, 1335, 1405, 1565, 1635, 1705, 1775, 1845, 1915, 1985, 2055, 2125, 2195, 2265, 2335, 2405, 2475, 2545, 2615, 2685, 2755, 2825, 2895, 2965, 3035, 3105, 3175, 3245, 4205, 4275, 4345, 4415, 4485, 4555, 4625, 4695, 4765, 4835, 4905, 4975, 5045, 5115, 5185, 5255, 5325, 5395, 5465, 5535, 5605, 5675, 5745, 6240, 6310, 6380, 6450, 6520, 6590, 6660, 6725, 6795, 6865, 6940, 7010, 7080, 7150, 7220, 7290, 7360, 7430, 7500, 7570, 7640, 7710, 7780, 8970, 9760]
m6756 = [130, 205, 275, 345, 415, 485, 555, 625, 695, 765, 835, 905, 975, 1045, 1115, 1325, 1395, 1465, 1535, 1605, 1675, 1745, 1815, 1885, 1955, 2030, 2105, 2175, 2245, 2315, 2385, 2460, 2535, 2605, 2675, 2745, 2815, 2885, 2955, 3025, 3095, 3165, 3235, 3305, 3375, 3450, 3525, 3600, 3675, 3745, 3815, 3885, 3955, 4025, 4095, 4165, 4235, 4305, 4375, 4445, 4515, 4585, 4655, 4725, 4795, 4865, 4935, 5005, 5075, 5145, 5215, 5285, 5355, 5425, 5495, 5565, 5635, 5705, 5775, 5845, 5915, 5985, 6055, 6125, 6195, 6265, 6335, 6405, 6475, 6545, 6615, 6790, 6865, 6935, 7010, 7080, 7150, 7220, 7290, 7360, 7430, 7500, 7570, 7640, 7710, 7810, 7880, 7950, 8020, 8090, 8160, 8230, 8300, 8370, 8440, 8710, 8780, 8850, 8920, 8990, 9060, 9130, 9200, 9270, 9340, 9410, 9650, 9720, 9800]
m6754 = [135, 205, 270, 535, 605, 675, 745, 970, 1045, 1115, 1185, 2225, 2295, 2365, 2435, 2510, 2585, 2655, 3410, 3450, 3520, 3590, 3655, 3725, 3795, 3865, 3940, 4010, 4080, 4150, 4220, 4300, 4480, 4555, 4625, 4695, 4765, 4835, 4905, 7730, 7800, 7870, 7940, 8010, 8080, 8150, 8220, 8290, 8360, 8430, 8500, 8570, 8640, 8710, 8780, 8855, 8935, 9015, 9095, 9175, 9255, 9335, 9415, 9495, 9570, 9640, 9710, 9790]
m6752 = [35, 105, 485, 555, 1305, 1375, 1445, 1515, 1585, 1655, 1870, 1950, 2025, 2095, 2160, 2230, 2300, 2365, 2435, 2985, 3055, 3125, 3195, 3260, 3930, 4000, 4080, 4160, 4240, 4315, 4385, 4455, 4525, 4595, 4665, 4735, 4805, 4875, 4945, 5015, 5085, 5155, 5225, 5295, 5365, 5435, 6975, 7055, 7135, 7215, 7295, 7375, 7455, 7535, 7615, 7695, 7775, 7855, 8315, 8390, 8460, 8530, 8600, 8670, 8740, 8810, 8880, 8950, 9020, 9090, 9160, 9230, 9300, 9370, 9440, 9510, 9580, 9650, 9720, 9800]

levels = {6793: s6793, 6792: s6792, 6790: s6790, 6789: s6789, 6788: s6788, 6786: s6786, 6785: s6785,
          6784: s6784, 6783: s6783, 6782: s6782, 6781: s6781, 6780: s6780, 6779: s6779, 6778: s6778,
          6777: s6777, 6776: s6776, 6775: s6775, 6774: s6774, 6773: s6773, 6772: s6772, 6771: s6771,
          6770: s6770, 6769: s6769, 6768: s6768, 6767: s6767, 6766: s6766, 6765: s6765, 6764: s6764 + m6764,
          6763: s6763 + m6763, 6762: s6762 + m6762, 6761: s6761, 6760: s6760 + m6760, 6759: s6759 + m6759,
          6758: s6758 + m6758, 6757: s6757 + m6757, 6756: s6756 + m6756, 6755: s6755, 6754: s6754 + m6754,
          6753: s6753, 6752: s6752 + m6752, 6751: s6751, 6750: s6750,
          6749: s6749, 6748: s6748, 6747: s6747, 6746: s6746, 6745: s6745, 6744: s6744, 6743: s6743,
          6742: s6742, 6741: s6741, 6740: s6740, 6739: s6739, 6738: s6738, 6737: s6737, 6736: s6736,
          6734: s6734, 6733: s6733, 6732: s6732, 6731: s6731, 6727: s6727}

x = []
y = []
for level, samples in levels.items():
    x += samples
    y += [level] * len(samples)

fig, ax = plt.subplots(figsize=(10, 10), dpi=100)
ax.plot(x, y, 'k.', label='Samples\n$\\mu$ = 6759.12, $\\sigma$ = 8.01')
ax.set_xlim(-479, 10347)
ax.set_ylim(6723.7, 6795.3)
ax.set_xlabel('Sample #')
ax.set_ylabel('ADC Counts')
ax.set_title('Run 502, channel116, Pedestal')
ax.grid(True)
ax.legend(loc='upper right')
fig.subplots_adjust(left=0.081, right=0.985, top=0.965, bottom=0.058)
fig.savefig('out.png', dpi=100)
